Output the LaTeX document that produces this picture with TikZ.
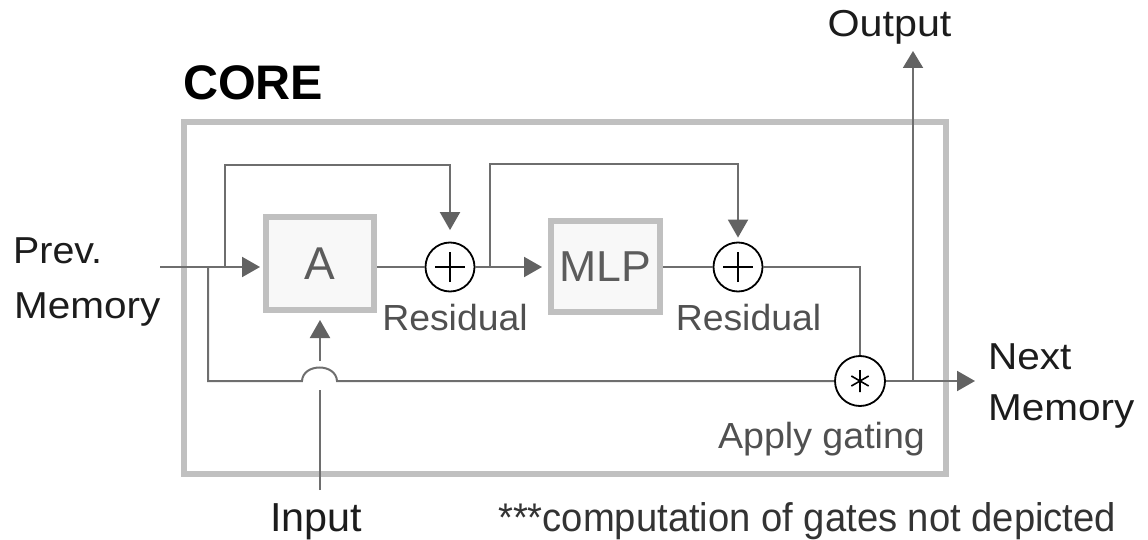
\documentclass[tikz,border=0pt]{standalone}
\usepackage{fontspec}
\setmainfont{Liberation Sans}
\usetikzlibrary{arrows.meta}

\definecolor{wire}{HTML}{6E6E6E}
\definecolor{tipc}{HTML}{626262}
\definecolor{frame}{HTML}{C0C0C0}
\definecolor{boxfill}{HTML}{F8F8F8}
\definecolor{ink}{HTML}{1C1C1C}
\definecolor{soft}{HTML}{505050}
\definecolor{notec}{HTML}{333333}
\definecolor{blocktxt}{HTML}{5C5C5C}

% horizontal stretch of a piece of text
\newcommand\hstretch[2]{\scalebox{#1}[1]{#2}}

\begin{document}
\begin{tikzpicture}[x=1pt,y=-1pt,
  wire/.style={draw=wire,line width=2pt},
  arr/.style={wire,-{Triangle[length=18pt,width=20pt,color=tipc]}},
  block/.style={draw=frame,line width=6pt,fill=boxfill,text=blocktxt,inner sep=0pt},
  opnode/.style={circle,draw=black,line width=1.8pt,minimum size=49pt,inner sep=0pt,fill=white},
  plusop/.style={opnode,path picture={
      \draw[line width=2.4pt]
        ([xshift=-15pt]path picture bounding box.center) -- ([xshift=15pt]path picture bounding box.center)
        ([yshift=-15pt]path picture bounding box.center) -- ([yshift=15pt]path picture bounding box.center);}},
  gateop/.style={opnode,minimum size=50pt,path picture={
      \draw[line width=1.6pt]
        ([yshift=-11pt]path picture bounding box.center) -- ([yshift=11pt]path picture bounding box.center)
        ([shift={(30:10pt)}]path picture bounding box.center) -- ([shift={(210:10pt)}]path picture bounding box.center)
        ([shift={(150:10pt)}]path picture bounding box.center) -- ([shift={(330:10pt)}]path picture bounding box.center);}},
  lbl/.style={inner sep=0pt,text=ink,font=\fontsize{37.5}{40}\selectfont},
  note/.style={inner sep=0pt,text=soft,font=\fontsize{36.3}{40}\selectfont},
]
\useasboundingbox (0,0) rectangle (1148,540);

% outer frame and its title
\node[draw=frame,line width=6pt,minimum width=762.5pt,minimum height=352pt,inner sep=0pt] (core) at (564.75,298) {};
\node[inner sep=0pt,anchor=base west,text=black,font=\bfseries\fontsize{48.5}{50}\selectfont] (title) at (183,100) {CORE};

% blocks and operators
\node[block,minimum width=108pt,minimum height=93pt,font=\fontsize{46}{46}\selectfont] (A) at (320,263.5) {A};
\node[block,minimum width=109pt,minimum height=91pt,font=\fontsize{43.3}{44}\selectfont] (M) at (605.5,266.5) {\hstretch{1.03}{MLP}};
\node[plusop] (p1) at (450,267) {};
\node[plusop] (p2) at (738,267) {};
\node[gateop] (g) at (860,381) {};

% labels
\node[lbl,anchor=base west] (prevA) at (13,263) {\hstretch{1.05}{Prev.}};
\node[lbl,anchor=base west] (prevB) at (14,318) {\hstretch{1.08}{Memory}};
\node[lbl,anchor=base west] (nextA) at (988,369) {\hstretch{1.08}{Next}};
\node[lbl,anchor=base west] (nextB) at (988,420) {\hstretch{1.08}{Memory}};
\node[lbl,anchor=base] (outlbl) at (889.5,37) {\hstretch{1.1}{Output}};
\node[lbl,anchor=base,font=\fontsize{40.5}{42}\selectfont] (inlbl) at (316,531) {\hstretch{1.02}{Input}};
\node[note,anchor=base] (res1) at (455,330) {\hstretch{1.03}{Residual}};
\node[note,anchor=base] (res2) at (748.5,330) {\hstretch{1.03}{Residual}};
\node[note,anchor=base] (gating) at (821.5,448) {\hstretch{1.035}{Apply gating}};
\node[inner sep=0pt,anchor=base west,text=notec,font=\fontsize{40}{42}\selectfont] (footnote) at (498,531) {\hstretch{0.955}{***computation of gates not depicted}};

% junctions and free ends
\coordinate (pm) at (160,267);
\coordinate (j1) at (208,267);
\coordinate (j2) at (225,267);
\coordinate (t1) at (225,165);
\coordinate (j3) at (490,267);
\coordinate (t2) at (490,164);
\coordinate (bl) at (208,381);
\coordinate (h1) at (302,381);
\coordinate (h2) at (337,381);
\coordinate (j4) at (913,381);
\coordinate (nm) at (975,381);
\coordinate (ot) at (913,51);
\coordinate (i0) at (320,490);
\coordinate (i1) at (320,390);
\coordinate (i2) at (320,361);

% connectors
\draw[arr,shorten >=3pt] (pm) -- (pm -| A.west);
\draw[arr,shorten >=11.5pt] (j2) -- (t1) -| (p1.north);
\draw[wire] (A.east |- p1.west) -- (p1.west);
\draw[arr,shorten >=6pt] (p1.east) -- (M.west |- p1.east);
\draw[arr,shorten >=4pt] (j3) -- (t2) -| (p2.north);
\draw[wire] (M.east |- p2.west) -- (p2.west);
\draw[wire] (p2.east) -| (g.north);
\draw[wire] (j1) -- (bl) -- (h1) .. controls (303,363) and (336,363) .. (h2) -- (g.west);
\draw[wire] (g.east) -- (j4);
\draw[arr] (j4) -- (nm);
\draw[arr,-{Triangle[length=17pt,width=20pt,color=tipc]}] (j4) -- (ot);
\draw[wire] (i0) -- (i1);
\draw[arr,shorten >=7pt] (i2) -- (A.south);
\end{tikzpicture}
\end{document}
